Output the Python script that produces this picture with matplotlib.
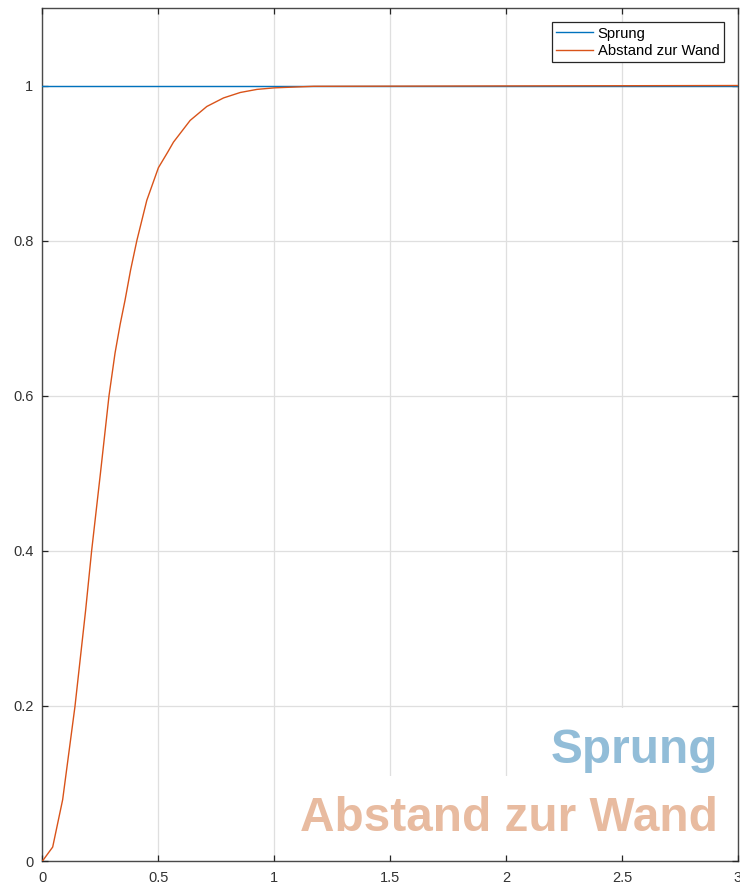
import matplotlib
matplotlib.use("Agg")
import matplotlib.pyplot as plt

plt.rcParams['font.family'] = ['Liberation Sans', 'DejaVu Sans']

# ---- data ----
step_t = [0.0, 3.0]
step_y = [1.0, 1.0]

dist_t = [0.0, 0.044, 0.087, 0.14, 0.186, 0.212, 0.25, 0.287, 0.313, 0.335, 0.356, 0.38, 0.407,
          0.45, 0.5, 0.54, 0.565, 0.637, 0.709, 0.781, 0.853, 0.925, 1.0, 1.17, 3.0]
dist_y = [0.0, 0.018, 0.079, 0.199, 0.323, 0.40, 0.50, 0.60, 0.655, 0.692, 0.723, 0.762, 0.80,
          0.852, 0.894, 0.914, 0.927, 0.955, 0.973, 0.984, 0.991, 0.995, 0.997, 0.999, 1.0]

labels = ["Sprung", "Abstand zur Wand"]
xticks = [0, 0.5, 1, 1.5, 2, 2.5, 3]
xticklabels = ["0", "0.5", "1", "1.5", "2", "2.5", "3"]
yticks = [0, 0.2, 0.4, 0.6, 0.8, 1.0]
yticklabels = ["0", "0.2", "0.4", "0.6", "0.8", "1"]

c_blue = "#0072BD"
c_orange = "#D95319"

fig = plt.figure(figsize=(7.4, 8.85), dpi=100)
ax = fig.add_axes([0.0574, 0.0271, 0.9399, 0.9639])

ax.plot(step_t, step_y, color=c_blue, lw=1.0, label=labels[0], zorder=3)
ax.plot(dist_t, dist_y, color=c_orange, lw=1.0, label=labels[1], zorder=4)

ax.set_xlim(0, 3)
ax.set_ylim(0, 1.1)
ax.set_xticks(xticks)
ax.set_xticklabels(xticklabels)
ax.set_yticks(yticks)
ax.set_yticklabels(yticklabels)

# grid drawn as separate lines so that ticks/spines can sit on top of the text boxes
ax.grid(False)
for xv in xticks:
    ax.axvline(xv, color="#dfdfdf", lw=0.9, zorder=1)
for yv in yticks:
    ax.axhline(yv, color="#dfdfdf", lw=0.9, zorder=1)
ax.set_axisbelow(False)

for s in ax.spines.values():
    s.set_color("#4a4a4a")
    s.set_linewidth(1.0)
ax.tick_params(axis='both', direction='in', length=4.5, width=0.9, color="#262626",
               labelsize=10.5, labelcolor="#333333", top=True, right=True)
ax.tick_params(axis='x', pad=7)
ax.tick_params(axis='y', pad=6.5)

leg = ax.legend(loc='upper right', fontsize=10.7, frameon=True, fancybox=False,
                framealpha=1, edgecolor="#262626", handlelength=2.5,
                handletextpad=0.3, borderpad=0.3, labelspacing=0.22,
                borderaxespad=0.95)
leg.get_frame().set_linewidth(0.9)
leg.set_zorder(10)

ax.text(2.912, 0.1263, labels[0], ha='right', va='baseline', fontsize=34.4,
        fontweight='bold', color="#92BDD8", zorder=1.8,
        bbox=dict(facecolor='white', edgecolor='none', pad=14))
ax.text(2.912, 0.0393, labels[1], ha='right', va='baseline', fontsize=34.4,
        fontweight='bold', color="#E8BBA0", zorder=1.9,
        bbox=dict(facecolor='white', edgecolor='none', pad=14))

fig.savefig("out.png", dpi=100)
